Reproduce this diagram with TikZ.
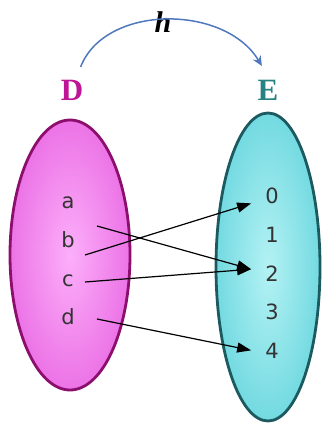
\documentclass[tikz,border=0pt]{standalone}
\usepackage{fontspec}
\setmainfont{Liberation Serif}
\newfontfamily\lblfont{DejaVu Sans}
\usetikzlibrary{arrows.meta,shapes.geometric,calc}
\definecolor{dinner}{RGB}{252,175,250}
\definecolor{douter}{RGB}{236,115,230}
\definecolor{dedge}{RGB}{140,15,110}
\definecolor{einner}{RGB}{180,242,244}
\definecolor{eouter}{RGB}{115,218,225}
\definecolor{eedge}{RGB}{28,90,95}
\definecolor{dtxt}{RGB}{190,20,150}
\definecolor{etxt}{RGB}{40,130,130}
\definecolor{harrow}{RGB}{80,120,190}
\begin{document}
\begin{tikzpicture}[x=1pt,y=-1pt,
  setD/.style={ellipse,draw=dedge,line width=2.8pt,inner color=dinner,outer color=douter,minimum width=120pt,minimum height=270pt,inner sep=0pt},
  setE/.style={ellipse,draw=eedge,line width=2.8pt,inner color=einner,outer color=eouter,minimum width=104pt,minimum height=308pt,inner sep=0pt},
  elem/.style={font=\lblfont\fontsize{21}{21}\selectfont,text=black!80,anchor=base,inner sep=2pt},
  setlbl/.style={font=\bfseries\fontsize{31}{31}\selectfont},
  fnarrow/.style={line width=1.2pt,-{Triangle[length=14pt,width=10pt]}}]
\useasboundingbox (0,0) rectangle (326,423);
\node[setD] (DD) at (70,255) {};
\node[setE] (EE) at (268,267) {};
\node[setlbl,text=dtxt] (Dl) at (72,90) {D};
\node[setlbl,text=etxt] (El) at (268,90) {E};
\node[font=\bfseries\itshape\fontsize{30}{30}\selectfont] (hl) at (163,22) {h};
\draw[harrow,line width=1.5pt,-{Stealth[length=10pt,width=9pt]},shorten <=10pt,shorten >=12pt]
  ([xshift=5pt]Dl.north) .. controls (105,4) and (225,4) .. (El.north);
\node[elem] (la) at (68,208) {a};
\node[elem] (lb) at (68,247) {b};
\node[elem] (lc) at (68,286) {c};
\node[elem] (ld) at (68,324) {d};
\node[elem] (n0) at (272,203) {0};
\node[elem] (n1) at (272,242) {1};
\node[elem] (n2) at (272,281) {2};
\node[elem] (n3) at (272,319) {3};
\node[elem] (n4) at (272,358) {4};
\coordinate (sa) at (97,226);
\coordinate (sb) at (85,255);
\coordinate (sc) at (85,282);
\coordinate (sd) at (97,319);
\draw[fnarrow] (sa) -- ($(n2.west)+(-12,-4)$);
\draw[fnarrow] (sb) -- ($(n0.west)+(-12,8)$);
\draw[fnarrow] (sc) -- ($(n2.west)+(-12,-4)$);
\draw[fnarrow] (sd) -- ($(n4.west)+(-12,0)$);
\end{tikzpicture}
\end{document}
